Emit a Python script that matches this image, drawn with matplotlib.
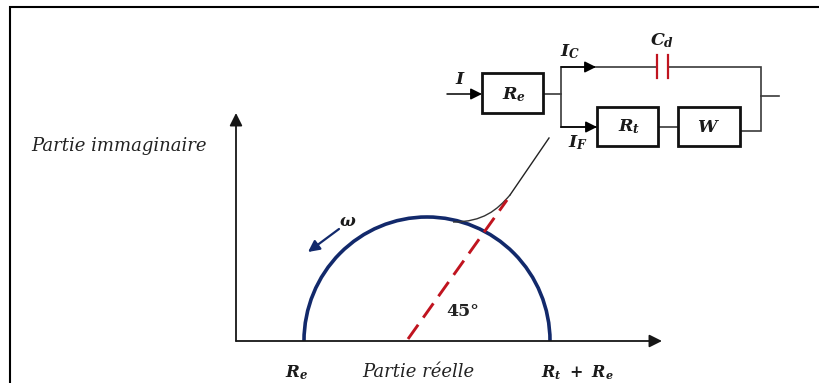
import matplotlib
matplotlib.use("Agg")
import matplotlib.pyplot as plt
from matplotlib.patches import Arc, Rectangle
from matplotlib.path import Path
from matplotlib.patches import PathPatch

plt.rcParams['mathtext.fontset'] = 'custom'
plt.rcParams['mathtext.rm'] = 'DejaVu Serif:italic:bold'
plt.rcParams['mathtext.it'] = 'DejaVu Serif:italic:bold'
plt.rcParams['mathtext.bf'] = 'DejaVu Serif:italic:bold'

# Values, in reference pixels
axis_origin = (236, 341)
axis_x_tip = 662
axis_y_tip = 113
re_point = 304
rt_re_point = 550
arc_height = 124
phase_start = (408, 339)
phase_end = (507, 200)
warburg_curve = [(453, 222), (483, 222), (497, 210), (510, 195)]
warburg_tail = (549, 138)
omega_arrow = [(339, 229), (308, 252)]

boxes = {"Re": (482, 73, 61, 40), "Rt": (597, 107, 61, 39), "W": (678, 107, 62, 39)}
wires = [
    [(543, 94), (561, 94)],
    [(561, 127), (561, 67), (657, 67)],
    [(561, 127), (597, 127)],
    [(668, 67), (761, 67), (761, 131), (740, 131)],
    [(658, 127), (678, 127)],
    [(761, 96), (779, 96)],
]
cap_plates = [657, 668]
cap_span = (55, 78)
arrows = [[(447, 94), (482, 94)], [(561, 67), (596, 67)], [(561, 127), (597, 127)]]

labels = [
    (460, 79, r"$I$", 12.5),
    (570, 52, r"$I_C$", 12.5),
    (662, 41, r"$C_d$", 12.5),
    (514, 95, r"$R_e$", 12.5),
    (629, 127, r"$R_t$", 12.5),
    (708, 127, r"$W$", 12.5),
    (578, 143, r"$I_F$", 12.5),
    (348, 221, r"$\omega$", 12),
    (297, 373, r"$R_e$", 12),
    (577, 373, r"$R_t\ +\ R_e$", 11.5),
]
plain_labels = [
    (119, 146, "Partie immaginaire", "italic", "normal", 13),
    (418, 372, "Partie réelle", "italic", "normal", 13),
    (463, 312, "45°", "normal", "bold", 12.5),
]

W, H = 819, 383
NAVY = "#12296b"
RED = "#c0141f"
GREY = "#3a3a3a"

fig = plt.figure(figsize=(W / 100, H / 100), dpi=100)
ax = fig.add_axes([0, 0, 1, 1])
ax.set_xlim(0, W)
ax.set_ylim(H, 0)
ax.axis("off")

# frame: left and top edges only
ax.plot([10, 10, W + 2], [H + 2, 7, 7], color="black", lw=1.5, solid_joinstyle="miter")


def arrow(start, end, color=GREY, lw=1.3, scale=18):
    ax.annotate("", xy=end, xytext=start,
                arrowprops=dict(arrowstyle="-|>", color=color, lw=lw, mutation_scale=scale,
                                shrinkA=0, shrinkB=0))


# axes
arrow(axis_origin, (axis_x_tip, axis_origin[1]), color="#161616", lw=1.3, scale=19)
arrow(axis_origin, (axis_origin[0], axis_y_tip), color="#161616", lw=1.3, scale=19)

# semicircle
ax.add_patch(Arc(((re_point + rt_re_point) / 2, axis_origin[1]), rt_re_point - re_point, 2 * arc_height,
                 theta1=180, theta2=360, color=NAVY, lw=2.6))

# 45 degree line
ax.plot(*zip(phase_start, phase_end), color=RED, lw=2.1, dashes=(6, 3))

# Warburg branch
ax.add_patch(PathPatch(Path(warburg_curve, [Path.MOVETO, Path.CURVE4, Path.CURVE4, Path.CURVE4]),
                       fc="none", ec="#333333", lw=1.0))
ax.plot(*zip(warburg_curve[-1], warburg_tail), color="#222222", lw=1.0)

# omega arrow
arrow(omega_arrow[0], omega_arrow[1], color=NAVY, lw=1.6, scale=17)

# circuit
for w in wires:
    ax.plot(*zip(*w), color=GREY, lw=1.2, solid_joinstyle="miter")
for x, y, bw, bh in boxes.values():
    ax.add_patch(Rectangle((x, y), bw, bh, fc="white", ec="#111111", lw=2.0, zorder=3))
for x in cap_plates:
    ax.plot([x, x], cap_span, color=RED, lw=1.6)
for a in arrows:
    arrow(a[0], a[1], color="black", lw=1.1, scale=17)

for x, y, s, size in labels:
    ax.text(x, y, s, fontsize=size, ha="center", va="center", color="#1a1a1a", zorder=5)
for x, y, s, style, weight, size in plain_labels:
    ax.text(x, y, s, fontsize=size, ha="center", va="center", family="DejaVu Serif",
            style=style, weight=weight, color="#222222", zorder=5)

fig.savefig("out.png", dpi=100)
